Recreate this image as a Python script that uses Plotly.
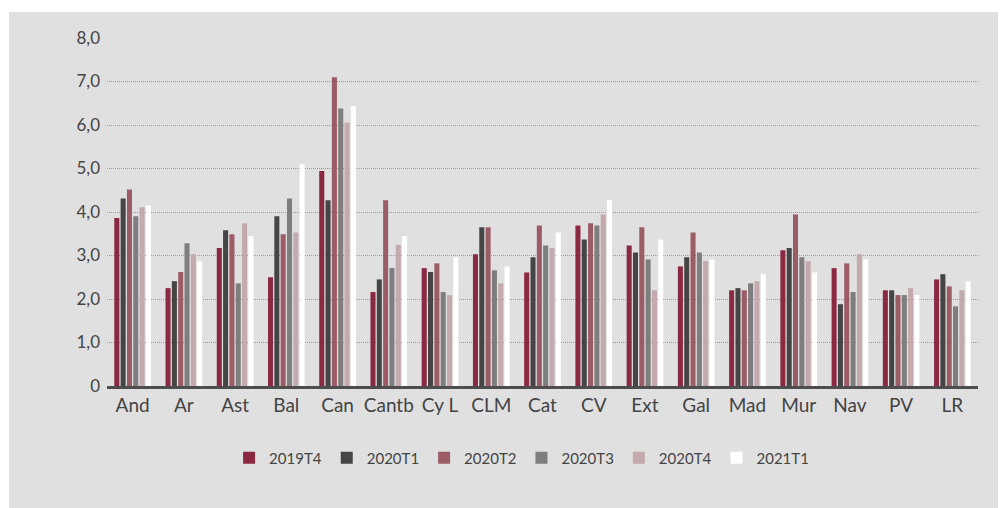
import plotly.graph_objects as go

regions = ["And", "Ar", "Ast", "Bal", "Can", "Cantb", "Cy L", "CLM", "Cat", "CV",
           "Ext", "Gal", "Mad", "Mur", "Nav", "PV", "LR"]

t2019_4 = [3.86, 2.25, 3.17, 2.50, 4.94, 2.16, 2.71, 3.03, 2.61, 3.69, 3.23, 2.75, 2.20, 3.12, 2.71, 2.20, 2.45]
t2020_1 = [4.31, 2.41, 3.58, 3.90, 4.27, 2.45, 2.62, 3.65, 2.96, 3.37, 3.07, 2.96, 2.25, 3.17, 1.88, 2.20, 2.57]
t2020_2 = [4.52, 2.62, 3.49, 3.49, 7.10, 4.27, 2.82, 3.65, 3.69, 3.74, 3.65, 3.53, 2.20, 3.94, 2.82, 2.09, 2.29]
t2020_3 = [3.90, 3.28, 2.36, 4.31, 6.38, 2.71, 2.16, 2.66, 3.23, 3.69, 2.91, 3.07, 2.36, 2.96, 2.16, 2.09, 1.83]
t2020_4 = [4.11, 3.03, 3.74, 3.53, 6.06, 3.24, 2.09, 2.36, 3.17, 3.94, 2.20, 2.87, 2.41, 2.87, 3.03, 2.25, 2.20]
t2021_1 = [4.15, 2.87, 3.44, 5.10, 6.43, 3.44, 2.96, 2.75, 3.53, 4.27, 3.37, 2.91, 2.57, 2.61, 2.91, 2.09, 2.41]

series = [
    ("2019T4", t2019_4, "#8b2942"),
    ("2020T1", t2020_1, "#454545"),
    ("2020T2", t2020_2, "#9c5c66"),
    ("2020T3", t2020_3, "#7e7e7e"),
    ("2020T4", t2020_4, "#c4a9ad"),
    ("2021T1", t2021_1, "#ffffff"),
]

y_ticks = [0, 1, 2, 3, 4, 5, 6, 7, 8]
y_labels = ["0", "1,0", "2,0", "3,0", "4,0", "5,0", "6,0", "7,0", "8,0"]

bg = "#e0e0e0"
txt = "#444444"

fig = go.Figure()
for name, vals, col in series:
    fig.add_trace(go.Bar(x=regions, y=vals, name=name, marker_color=col,
                         marker_line_width=0))

# grey panel (leaves a thin white strip at left and top)
fig.add_shape(type="rect", xref="paper", yref="paper",
              x0=-0.1125, x1=1.05, y0=-0.40, y1=1.0747,
              fillcolor=bg, line_width=0, layer="below")

# page body adds 8px margin, so the figure is a bit smaller
fig.update_layout(
    width=998, height=500,
    margin=dict(l=99, r=28, t=30, b=122),
    paper_bgcolor="white", plot_bgcolor=bg,
    font=dict(family="Lato", color=txt),
    barmode="group", bargap=0.26, bargroupgap=0.2,
    legend=dict(orientation="h", x=0.476, xanchor="center", y=-0.207, yanchor="middle",
                font=dict(size=15, color=txt), bgcolor="rgba(0,0,0,0)",
                itemwidth=30, traceorder="normal"),
)
fig.update_xaxes(showline=True, linecolor="#4d4d4d", linewidth=3,
                 tickfont=dict(size=19, color=txt), showgrid=False)
fig.update_yaxes(range=[0, 8], tickvals=y_ticks, ticktext=y_labels,
                 tickfont=dict(size=17, color=txt), showgrid=True,
                 gridcolor="#9a9a9a", griddash="1px,1px", gridwidth=1,
                 zeroline=False, ticklabelstandoff=6)

fig.write_html("out.html")
